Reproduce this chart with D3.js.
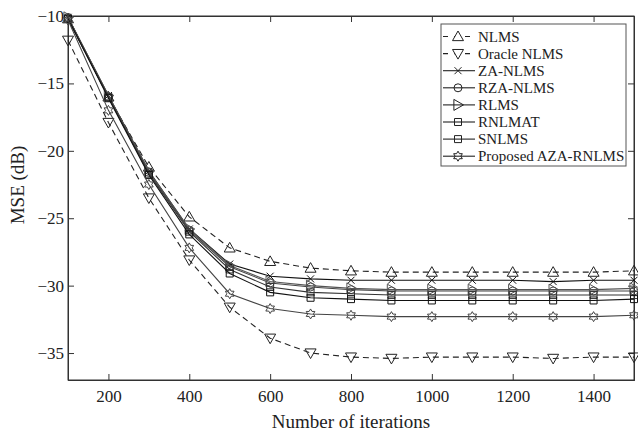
<!DOCTYPE html>
<html>
<head>
<meta charset="utf-8">
<script src="https://cdn.jsdelivr.net/npm/d3@7"></script>
<style>
  body { margin: 0; background: #fff; }
  svg text { font-family: "Liberation Serif", "Times New Roman", serif; fill: #222; }
</style>
</head>
<body>
<svg id="chart" width="638" height="435"></svg>
<script>
// data
const iterations = [100, 200, 300, 400, 500, 600, 700, 800, 900, 1000, 1100, 1200, 1300, 1400, 1500]
const nlms     = [-10.2, -16.0, -21.2, -24.9, -27.2, -28.2, -28.7, -28.9, -29.0, -29.0, -29.0, -29.0, -29.0, -29.0, -28.9]
const oracle   = [-11.8, -17.9, -23.5, -28.1, -31.6, -33.9, -35.0, -35.3, -35.4, -35.3, -35.3, -35.3, -35.4, -35.3, -35.3]
const zaNlms   = [-10.1, -15.9, -21.5, -25.8, -28.4, -29.3, -29.5, -29.6, -29.6, -29.6, -29.6, -29.6, -29.7, -29.6, -29.6]
const rzaNlms  = [-10.1, -16.0, -21.6, -25.9, -28.6, -29.8, -30.1, -30.3, -30.4, -30.4, -30.4, -30.4, -30.4, -30.4, -30.4]
const rlms     = [-10.1, -15.9, -21.5, -25.8, -28.5, -29.7, -30.0, -30.2, -30.3, -30.3, -30.3, -30.3, -30.3, -30.3, -30.2]
const rnlmat   = [-10.2, -16.0, -21.7, -26.0, -28.8, -30.1, -30.5, -30.6, -30.7, -30.7, -30.7, -30.7, -30.7, -30.7, -30.7]
const snlms    = [-10.2, -16.1, -21.8, -26.2, -29.1, -30.5, -30.9, -31.0, -31.1, -31.1, -31.1, -31.1, -31.1, -31.1, -31.0]
const proposed = [-10.3, -17.0, -22.5, -27.2, -30.6, -31.7, -32.1, -32.2, -32.3, -32.3, -32.3, -32.3, -32.3, -32.3, -32.2]

const xTicks = [200, 400, 600, 800, 1000, 1200, 1400]
const yTicks = [-10, -15, -20, -25, -30, -35]

const series = [
  {name: 'NLMS', values: nlms, marker: 'up', dash: '6,4', color: '#222'},
  {name: 'Oracle NLMS', values: oracle, marker: 'down', dash: '6,4', color: '#222'},
  {name: 'ZA-NLMS', values: zaNlms, marker: 'x', dash: null, color: '#111'},
  {name: 'RZA-NLMS', values: rzaNlms, marker: 'circle', dash: null, color: '#444'},
  {name: 'RLMS', values: rlms, marker: 'right', dash: null, color: '#555'},
  {name: 'RNLMAT', values: rnlmat, marker: 'square', dash: null, color: '#333'},
  {name: 'SNLMS', values: snlms, marker: 'square', dash: null, color: '#111'},
  {name: 'Proposed AZA-RNLMS', values: proposed, marker: 'hex', dash: null, color: '#444'}
]

const margin = {left: 68, right: 4, top: 16, bottom: 55}
const width = 638 - margin.left - margin.right
const height = 435 - margin.top - margin.bottom

const svg = d3.select('#chart')
const g = svg.append('g').attr('transform', `translate(${margin.left},${margin.top})`)

const x = d3.scaleLinear().domain([100, 1500]).range([0, width])
const y = d3.scaleLinear().domain([-37, -10]).range([height, 0])

const minus = v => String(v).replace('-', '\u2212')

// axes with inward ticks on all sides
g.append('g').attr('transform', `translate(0,${height})`)
  .call(d3.axisBottom(x).tickValues(xTicks).tickSize(-6).tickPadding(10).tickFormat(d3.format('d')))
g.append('g')
  .call(d3.axisTop(x).tickValues(xTicks).tickSize(-6).tickFormat(''))
g.append('g')
  .call(d3.axisLeft(y).tickValues(yTicks).tickSize(-6).tickPadding(4).tickFormat(minus))
g.append('g').attr('transform', `translate(${width},0)`)
  .call(d3.axisRight(y).tickValues(yTicks).tickSize(-6).tickFormat(''))

g.selectAll('.domain').attr('stroke', '#333')
g.selectAll('.tick line').attr('stroke', '#333')
g.selectAll('.tick text').style('font-size', '17px').attr('fill', '#333')

g.append('rect').attr('width', width).attr('height', height)
  .attr('fill', 'none').attr('stroke', '#333')

// axis titles
svg.append('text').attr('x', margin.left + width / 2).attr('y', 428)
  .attr('text-anchor', 'middle').style('font-size', '19px').text('Number of iterations')
svg.append('text').attr('transform', 'translate(24,185) rotate(-90)')
  .attr('text-anchor', 'middle').style('font-size', '19px').text('MSE (dB)')

function markerPath(type){
  const r = 5.5
  if (type === 'up') return `M0,${-r}L${r},${r*0.75}L${-r},${r*0.75}Z`
  if (type === 'down') return `M0,${r}L${r},${-r*0.75}L${-r},${-r*0.75}Z`
  if (type === 'right') return `M${r},0L${-r*0.75},${r}L${-r*0.75},${-r}Z`
  if (type === 'x') return 'M-3.5,-3.5L3.5,3.5M-3.5,3.5L3.5,-3.5'
  if (type === 'square') return 'M-3.5,-3.5H3.5V3.5H-3.5Z'
  if (type === 'circle') return d3.symbol().type(d3.symbolCircle).size(50)()
  if (type === 'hex') {
    const pts = []
    for (let i = 0; i < 12; i++) {
      const a = Math.PI / 6 * i - Math.PI / 2
      const rr = i % 2 === 0 ? 5 : 5 / Math.sqrt(3)
      pts.push([rr * Math.cos(a), rr * Math.sin(a)])
    }
    return 'M' + pts.join('L') + 'Z'
  }
}

const line = d3.line().x((d, i) => x(iterations[i])).y(d => y(d))

for (const s of series) {
  g.append('path').datum(s.values)
    .attr('d', line)
    .attr('fill', 'none')
    .attr('stroke', s.color)
    .attr('stroke-width', 1.1)
    .attr('stroke-dasharray', s.dash)
  g.selectAll(null).data(s.values).enter()
    .append('path')
    .attr('transform', (d, i) => `translate(${x(iterations[i])},${y(d)})`)
    .attr('d', markerPath(s.marker))
    .attr('fill', 'none')
    .attr('stroke', s.color)
    .attr('stroke-width', 1)
}

// legend
const legend = svg.append('g').attr('transform', 'translate(441,24)')
legend.append('rect').attr('width', 185).attr('height', 142)
  .attr('fill', '#fff').attr('stroke', '#555')
series.forEach((s, i) => {
  const row = legend.append('g').attr('transform', `translate(0,${12.5 + i * 17.1})`)
  row.append('line').attr('x1', 2).attr('x2', 34)
    .attr('stroke', '#222').attr('stroke-width', 1.1)
    .attr('stroke-dasharray', s.dash ? '5,6' : null)
  row.append('path').attr('transform', 'translate(17,0)')
    .attr('d', markerPath(s.marker)).attr('fill', s.dash ? '#fff' : 'none')
    .attr('stroke', '#222')
  row.append('text').attr('x', 37).attr('y', 5)
    .style('font-size', '15px').text(s.name)
})
</script>
</body>
</html>
